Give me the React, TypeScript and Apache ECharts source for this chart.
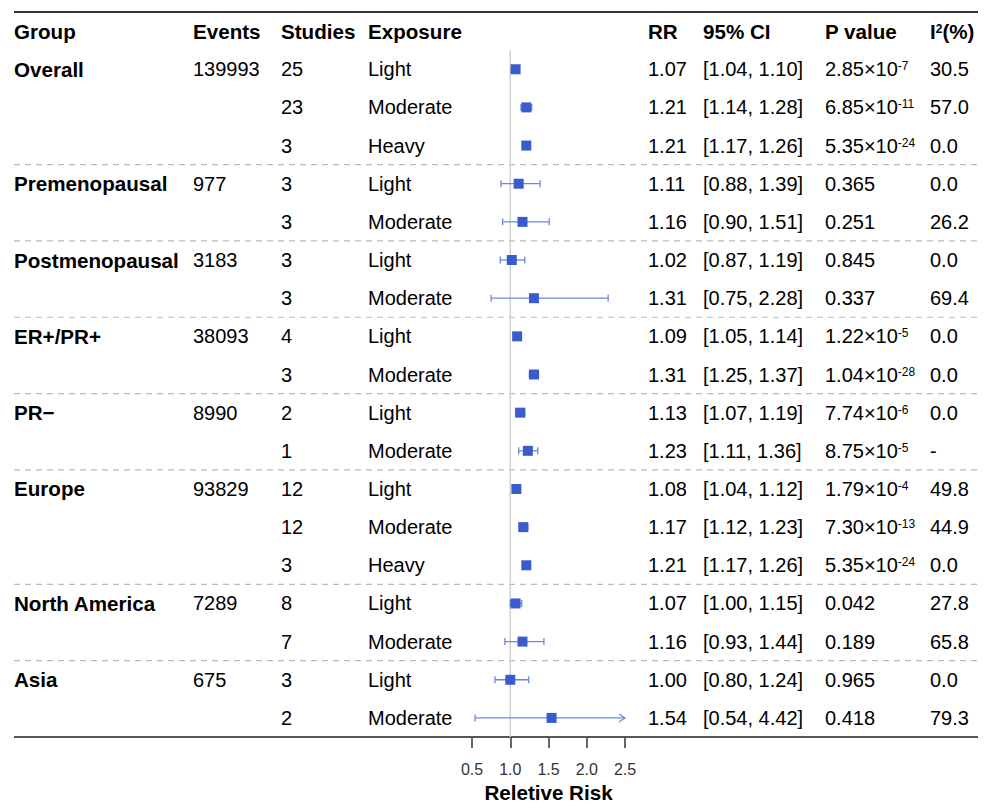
import React, { useEffect, useRef } from "react";
import * as echarts from "echarts";

// ---------- data ----------
const headers = ["Group", "Events", "Studies", "Exposure", "RR", "95% CI", "P value", "I2(%)"];
const groups = ["Overall", "Premenopausal", "Postmenopausal", "ER+/PR+", "PR\u2212", "Europe", "North America", "Asia"];
const groupEvents = ["139993", "977", "3183", "38093", "8990", "93829", "7289", "675"];
const groupSizes = [3, 2, 2, 2, 2, 3, 2, 2];
const studies = ["25", "23", "3", "3", "3", "3", "3", "4", "3", "2", "1", "12", "12", "3", "8", "7", "3", "2"];
const exposure = ["Light", "Moderate", "Heavy", "Light", "Moderate", "Light", "Moderate", "Light", "Moderate", "Light", "Moderate", "Light", "Moderate", "Heavy", "Light", "Moderate", "Light", "Moderate"];
const rr = [1.07, 1.21, 1.21, 1.11, 1.16, 1.02, 1.31, 1.09, 1.31, 1.13, 1.23, 1.08, 1.17, 1.21, 1.07, 1.16, 1.0, 1.54];
const ciLow = [1.04, 1.14, 1.17, 0.88, 0.9, 0.87, 0.75, 1.05, 1.25, 1.07, 1.11, 1.04, 1.12, 1.17, 1.0, 0.93, 0.8, 0.54];
const ciHigh = [1.1, 1.28, 1.26, 1.39, 1.51, 1.19, 2.28, 1.14, 1.37, 1.19, 1.36, 1.12, 1.23, 1.26, 1.15, 1.44, 1.24, 4.42];
// p value: [mantissa, exponent] or plain string
const pValues: (string | [string, string])[] = [
  ["2.85", "-7"], ["6.85", "-11"], ["5.35", "-24"], "0.365", "0.251", "0.845", "0.337",
  ["1.22", "-5"], ["1.04", "-28"], ["7.74", "-6"], ["8.75", "-5"], ["1.79", "-4"], ["7.30", "-13"],
  ["5.35", "-24"], "0.042", "0.189", "0.965", "0.418",
];
const i2 = ["30.5", "57.0", "0.0", "0.0", "26.2", "0.0", "69.4", "0.0", "0.0", "0.0", "-", "49.8", "44.9", "0.0", "27.8", "65.8", "0.0", "79.3"];
const xTicks = [0.5, 1.0, 1.5, 2.0, 2.5];
const refValue = 1.0;
const axisTitle = "Reletive Risk";

// ---------- layout ----------
const W = 987;
const H = 803;
const colX = [14, 193, 281, 368, 648, 703, 825, 930];
const lineLeft = 14;
const lineRight = 978;
const plotLeft = 472;
const plotWidth = 153;
const gridTop = 12;
const gridHeight = 725;
const FONT = "Liberation Sans, Arial, Helvetica, sans-serif";
const FS = 20;
const FSB = 20.6;
const SQUARE = "#3a5bcd";
const CI_COLOR = "#6a88df";

const nRows = rr.length;

function buildRows() {
  const items: any[] = [];
  headers.forEach((h, c) => {
    let t = "{b|" + h + "}";
    if (h === "I2(%)") t = "{b|I}{bs|2}{b|(%)}";
    items.push([colX[c], 0, t]);
  });
  let row = 1;
  groups.forEach((g, gi) => {
    items.push([colX[0], row, "{b|" + g + "}"]);
    items.push([colX[1], row, "{n|" + groupEvents[gi] + "}"]);
    row += groupSizes[gi];
  });
  for (let i = 0; i < nRows; i++) {
    const r = i + 1;
    items.push([colX[2], r, "{n|" + studies[i] + "}"]);
    items.push([colX[3], r, "{n|" + exposure[i] + "}"]);
    items.push([colX[4], r, "{n|" + rr[i].toFixed(2) + "}"]);
    items.push([colX[5], r, "{n|[" + ciLow[i].toFixed(2) + ", " + ciHigh[i].toFixed(2) + "]}"]);
    const p = pValues[i];
    const pt = typeof p === "string" ? "{n|" + p + "}" : "{n|" + p[0] + "\u00d710}{s|" + p[1] + "}";
    items.push([colX[6], r, pt]);
    items.push([colX[7], r, "{n|" + i2[i] + "}"]);
  }
  return items;
}

function buildRules() {
  const rules: any[] = [[-0.5, "top"], [nRows + 0.5, "bottom"]];
  let row = 0;
  groupSizes.forEach((s, gi) => {
    row += s;
    if (gi < groupSizes.length - 1) rules.push([row + 0.5, "dash"]);
  });
  return rules;
}

const rowsCache = buildRows();
const rulesCache = buildRules();

export default function App() {
  const ref = useRef<HTMLDivElement>(null);
  useEffect(() => {
    if (!ref.current) return;
    const chart = echarts.init(ref.current, undefined, { renderer: "svg" });
    const xMin = xTicks[0];
    const xMax = xTicks[xTicks.length - 1];
    const rich = {
      n: { fontSize: FS, fontFamily: FONT, color: "#000", lineHeight: 22 },
      b: { fontSize: FSB, fontFamily: FONT, color: "#000", fontWeight: "bold", lineHeight: 22 },
      s: { fontSize: 12, fontFamily: FONT, color: "#000", lineHeight: 17, verticalAlign: "top", padding: [2, 0, 0, 0] },
      bs: { fontSize: 12, fontFamily: FONT, color: "#000", fontWeight: "bold", lineHeight: 17, verticalAlign: "top", padding: [3, 0, 0, 0] },
    };
    const option: any = {
      animation: false,
      backgroundColor: "#ffffff",
      grid: [
        { left: plotLeft, width: plotWidth, top: gridTop, height: gridHeight, containLabel: false, outerBoundsMode: "none" },
        { left: 0, width: W, top: gridTop, height: gridHeight, containLabel: false, outerBoundsMode: "none" },
      ],
      xAxis: [
        {
          gridIndex: 0,
          type: "value",
          position: "bottom",
          min: xMin,
          max: xMax,
          interval: 0.5,
          axisLine: { show: false, onZero: false },
          axisTick: { show: true, length: 11, lineStyle: { color: "#333", width: 1.5 } },
          axisLabel: {
            margin: 24,
            fontSize: 16,
            fontFamily: FONT,
            color: "#333",
            formatter: (v: number) => v.toFixed(1),
          },
          splitLine: { show: false },
          name: axisTitle,
          nameLocation: "middle",
          nameGap: 45,
          nameTextStyle: { fontSize: FSB, fontWeight: "bold", fontFamily: FONT, color: "#000" },
        },
        { gridIndex: 1, type: "value", min: 0, max: W, show: false },
      ],
      yAxis: [
        { gridIndex: 0, type: "value", inverse: true, min: -0.5, max: nRows + 0.5, show: false },
        { gridIndex: 1, type: "value", inverse: true, min: -0.5, max: nRows + 0.5, show: false },
      ],
      series: [
        {
          type: "custom",
          name: "rules",
          xAxisIndex: 1,
          yAxisIndex: 1,
          data: rulesCache.map((r) => [r[0]]),
          silent: true,
          z: 1,
          renderItem: (params: any, api: any) => {
            const yv = api.value(0);
            const kind = rulesCache[params.dataIndex][1];
            const p1 = api.coord([lineLeft, yv]);
            const p2 = api.coord([lineRight, yv]);
            return {
              type: "line",
              shape: { x1: p1[0], y1: p1[1], x2: p2[0], y2: p2[1] },
              style:
                kind === "dash"
                  ? { stroke: "#bbbbbb", lineWidth: 1.2, lineDash: [6, 5] }
                  : { stroke: kind === "top" ? "#333" : "#555", lineWidth: 2 },
            };
          },
        },
        {
          type: "custom",
          name: "table",
          xAxisIndex: 1,
          yAxisIndex: 1,
          data: rowsCache.map((r) => [r[0], r[1]]),
          silent: true,
          z: 5,
          renderItem: (params: any, api: any) => {
            const item = rowsCache[params.dataIndex];
            const p = api.coord([api.value(0), api.value(1)]);
            return {
              type: "text",
              x: p[0],
              y: p[1],
              style: {
                text: item[2],
                rich,
                align: "left",
                verticalAlign: "middle",
                fontSize: FS,
                fontFamily: FONT,
              },
            };
          },
        },
        {
          type: "line",
          name: "reference",
          xAxisIndex: 0,
          yAxisIndex: 0,
          data: [
            [refValue, 0.5],
            [refValue, nRows + 0.5],
          ],
          symbol: "none",
          lineStyle: { color: "#cfcfcf", width: 1.5 },
          silent: true,
          z: 2,
        },
        {
          type: "custom",
          name: "ci",
          xAxisIndex: 0,
          yAxisIndex: 0,
          data: rr.map((_, i) => [ciLow[i], ciHigh[i], i + 1]),
          clip: false,
          silent: true,
          z: 3,
          renderItem: (params: any, api: any) => {
            const lo = api.value(0);
            const hi = api.value(1);
            const r = api.value(2);
            const loC = Math.max(lo, xMin);
            const hiC = Math.min(hi, xMax);
            const a = api.coord([loC, r]);
            const b = api.coord([hiC, r]);
            const cap = 3.5;
            const style = { stroke: CI_COLOR, lineWidth: 1.3, fill: "none" };
            const children: any[] = [
              { type: "line", shape: { x1: a[0], y1: a[1], x2: b[0], y2: b[1] }, style },
            ];
            if (lo >= xMin) children.push({ type: "line", shape: { x1: a[0], y1: a[1] - cap, x2: a[0], y2: a[1] + cap }, style });
            else children.push({ type: "polyline", shape: { points: [[a[0] + 6, a[1] - 4], [a[0], a[1]], [a[0] + 6, a[1] + 4]] }, style });
            if (hi <= xMax) children.push({ type: "line", shape: { x1: b[0], y1: b[1] - cap, x2: b[0], y2: b[1] + cap }, style });
            else children.push({ type: "polyline", shape: { points: [[b[0] - 6, b[1] - 4], [b[0], b[1]], [b[0] - 6, b[1] + 4]] }, style });
            return { type: "group", children };
          },
        },
        {
          type: "scatter",
          name: "rr",
          xAxisIndex: 0,
          yAxisIndex: 0,
          data: rr.map((v, i) => [v, i + 1]),
          symbol: "rect",
          symbolSize: 10,
          itemStyle: { color: SQUARE, opacity: 1 },
          silent: true,
          z: 4,
        },
      ],
    };
    chart.setOption(option);
    return () => chart.dispose();
  }, []);
  return <div ref={ref} style={{ position: "fixed", left: 0, top: 0, width: W, height: H, background: "#fff" }} />;
}
